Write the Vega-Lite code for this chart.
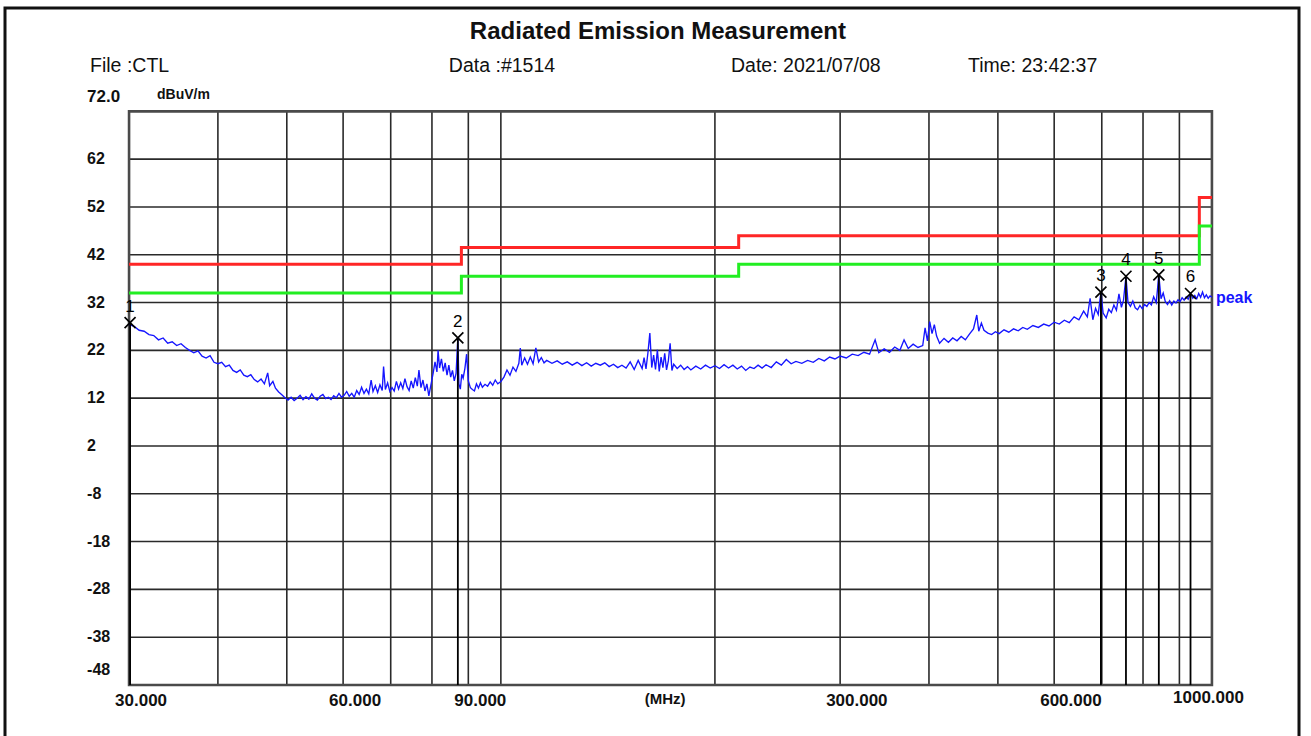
{
  "$schema": "https://vega.github.io/schema/vega-lite/v6.json",
  "width": 1311,
  "height": 736,
  "autosize": {"type": "fit", "contains": "padding"},
  "padding": {"left": 5, "top": 8, "right": 12, "bottom": -3},
  "background": "white",
  "config": {"view": {"stroke": "#111111", "strokeWidth": 3}, "font": "Liberation Sans"},
  "datasets": {
    "trace": [
      {"f":30.0,"v":27.4},{"f":30.5,"v":27.0},{"f":31.0,"v":26.2},{"f":31.5,"v":26.0},{"f":32.0,"v":25.3},{"f":32.5,"v":25.1},{"f":33.0,"v":24.2},{"f":33.5,"v":24.6},{"f":34.0,"v":23.5},{"f":34.5,"v":23.8},
      {"f":35.0,"v":23.0},{"f":35.5,"v":23.4},{"f":36.0,"v":22.6},{"f":36.5,"v":22.0},{"f":37.0,"v":21.5},{"f":37.5,"v":21.9},{"f":38.0,"v":20.8},{"f":38.5,"v":20.4},{"f":39.0,"v":20.9},{"f":39.5,"v":19.5},
      {"f":40.0,"v":19.2},{"f":40.5,"v":19.5},{"f":41.0,"v":18.6},{"f":41.5,"v":18.9},{"f":42.0,"v":17.8},{"f":42.5,"v":17.4},{"f":43.0,"v":17.9},{"f":43.5,"v":16.8},{"f":44.0,"v":16.5},{"f":44.5,"v":16.9},
      {"f":45.0,"v":15.9},{"f":45.5,"v":15.4},{"f":46.0,"v":16.0},{"f":46.5,"v":15.0},{"f":47.0,"v":17.3},{"f":47.3,"v":14.6},{"f":47.8,"v":15.5},{"f":48.2,"v":14.1},{"f":48.7,"v":13.3},{"f":49.2,"v":12.7},
      {"f":49.7,"v":12.1},{"f":50.2,"v":11.6},{"f":50.7,"v":12.2},{"f":51.2,"v":11.5},{"f":51.7,"v":12.0},{"f":52.2,"v":12.6},{"f":52.7,"v":11.7},{"f":53.2,"v":12.3},{"f":53.7,"v":11.8},{"f":54.2,"v":12.9},
      {"f":54.7,"v":12.0},{"f":55.2,"v":11.6},{"f":55.7,"v":12.4},{"f":56.2,"v":12.8},{"f":56.7,"v":11.9},{"f":57.2,"v":12.2},{"f":57.7,"v":11.7},{"f":58.2,"v":12.5},{"f":58.7,"v":12.1},{"f":59.2,"v":13.0},
      {"f":59.7,"v":12.2},{"f":60.2,"v":12.6},{"f":60.7,"v":13.4},{"f":61.2,"v":12.4},{"f":61.7,"v":13.0},{"f":62.2,"v":12.2},{"f":62.7,"v":13.6},{"f":63.2,"v":12.8},{"f":63.7,"v":14.3},{"f":64.2,"v":13.0},
      {"f":64.7,"v":13.9},{"f":65.2,"v":12.9},{"f":65.7,"v":15.8},{"f":66.1,"v":13.4},{"f":66.6,"v":14.6},{"f":67.1,"v":13.2},{"f":67.6,"v":14.8},{"f":68.1,"v":13.6},{"f":68.4,"v":18.6},{"f":68.8,"v":13.8},
      {"f":69.3,"v":15.2},{"f":69.8,"v":13.4},{"f":70.3,"v":14.2},{"f":70.8,"v":13.5},{"f":71.3,"v":15.5},{"f":71.8,"v":13.9},{"f":72.3,"v":15.2},{"f":72.8,"v":14.0},{"f":73.3,"v":16.1},{"f":73.8,"v":14.4},
      {"f":74.3,"v":13.6},{"f":74.8,"v":15.6},{"f":75.3,"v":14.1},{"f":75.8,"v":16.3},{"f":76.3,"v":14.5},{"f":76.7,"v":17.9},{"f":77.2,"v":14.2},{"f":77.7,"v":15.8},{"f":78.2,"v":13.5},{"f":78.7,"v":15.0},
      {"f":79.2,"v":12.5},{"f":79.7,"v":14.6},{"f":80.3,"v":17.2},{"f":80.8,"v":19.6},{"f":81.3,"v":17.5},{"f":81.6,"v":22.0},{"f":82.0,"v":18.3},{"f":82.5,"v":20.2},{"f":83.0,"v":17.6},{"f":83.5,"v":19.4},
      {"f":84.0,"v":16.8},{"f":84.5,"v":18.9},{"f":85.0,"v":16.4},{"f":85.5,"v":17.8},{"f":86.0,"v":15.6},{"f":86.5,"v":17.2},{"f":87.0,"v":24.6},{"f":87.3,"v":15.0},{"f":87.7,"v":13.9},{"f":88.1,"v":17.0},
      {"f":88.5,"v":16.2},{"f":89.0,"v":18.2},{"f":89.5,"v":21.2},{"f":90.0,"v":15.6},{"f":90.6,"v":14.2},{"f":91.2,"v":13.8},{"f":91.8,"v":13.5},{"f":92.4,"v":15.0},{"f":93.0,"v":14.1},{"f":93.6,"v":15.2},
      {"f":94.2,"v":14.3},{"f":95.0,"v":14.9},{"f":95.8,"v":14.5},{"f":96.6,"v":15.4},{"f":97.4,"v":14.7},{"f":98.2,"v":15.8},{"f":99.0,"v":15.0},{"f":100,"v":15.5},{"f":101,"v":16.4},{"f":102,"v":17.9},
      {"f":103,"v":16.8},{"f":104,"v":18.5},{"f":105,"v":17.6},{"f":106,"v":19.3},{"f":106.5,"v":22.5},{"f":107,"v":18.9},{"f":108,"v":20.4},{"f":109,"v":19.1},{"f":110,"v":20.6},{"f":111,"v":19.2},
      {"f":112,"v":22.5},{"f":113,"v":19.6},{"f":114,"v":20.5},{"f":115,"v":19.4},{"f":116,"v":19.9},{"f":118,"v":19.3},{"f":120,"v":19.8},{"f":122,"v":19.1},{"f":124,"v":19.6},{"f":126,"v":18.9},
      {"f":128,"v":19.5},{"f":130,"v":18.8},{"f":132,"v":19.4},{"f":134,"v":18.7},{"f":136,"v":19.3},{"f":138,"v":18.9},{"f":140,"v":19.4},{"f":142,"v":18.6},{"f":144,"v":19.1},{"f":146,"v":18.4},
      {"f":148,"v":18.9},{"f":150,"v":18.3},{"f":152,"v":19.6},{"f":154,"v":18.0},{"f":156,"v":19.9},{"f":158,"v":18.2},{"f":159,"v":20.5},{"f":160,"v":18.1},{"f":161,"v":21.5},{"f":162,"v":25.6},
      {"f":163,"v":18.4},{"f":164,"v":21.0},{"f":165,"v":18.0},{"f":166,"v":22.1},{"f":167,"v":17.6},{"f":168,"v":20.6},{"f":169,"v":18.4},{"f":170,"v":21.4},{"f":171,"v":17.9},{"f":172,"v":19.8},
      {"f":173,"v":23.5},{"f":174,"v":17.8},{"f":175,"v":19.1},{"f":177,"v":18.2},{"f":179,"v":18.9},{"f":181,"v":18.0},{"f":183,"v":18.6},{"f":185,"v":17.9},{"f":188,"v":18.7},{"f":191,"v":18.1},
      {"f":194,"v":18.9},{"f":197,"v":18.3},{"f":200,"v":18.8},{"f":203,"v":18.2},{"f":206,"v":19.0},{"f":209,"v":18.3},{"f":212,"v":18.9},{"f":215,"v":18.1},{"f":218,"v":18.7},{"f":221,"v":17.8},
      {"f":224,"v":18.5},{"f":227,"v":18.2},{"f":230,"v":18.9},{"f":233,"v":18.3},{"f":236,"v":19.0},{"f":240,"v":18.4},{"f":244,"v":19.6},{"f":248,"v":18.9},{"f":252,"v":20.1},{"f":256,"v":19.2},
      {"f":260,"v":19.7},{"f":265,"v":19.3},{"f":270,"v":19.9},{"f":275,"v":19.5},{"f":280,"v":20.3},{"f":285,"v":19.8},{"f":290,"v":20.6},{"f":295,"v":20.2},{"f":300,"v":20.8},{"f":306,"v":20.4},
      {"f":312,"v":21.2},{"f":318,"v":20.9},{"f":324,"v":21.6},{"f":330,"v":21.2},{"f":336,"v":24.2},{"f":340,"v":21.5},{"f":346,"v":22.3},{"f":352,"v":21.6},{"f":358,"v":22.7},{"f":364,"v":22.0},
      {"f":369,"v":24.2},{"f":374,"v":22.4},{"f":380,"v":23.3},{"f":386,"v":22.6},{"f":392,"v":23.0},{"f":395,"v":26.7},{"f":398,"v":24.0},{"f":401,"v":28.0},{"f":404,"v":25.5},{"f":407,"v":27.4},
      {"f":410,"v":25.0},{"f":414,"v":23.5},{"f":420,"v":24.5},{"f":426,"v":23.7},{"f":432,"v":24.6},{"f":438,"v":24.0},{"f":444,"v":24.9},{"f":450,"v":24.2},{"f":456,"v":25.4},{"f":462,"v":26.5},
      {"f":467,"v":29.4},{"f":470,"v":26.0},{"f":474,"v":27.7},{"f":478,"v":26.2},{"f":484,"v":25.6},{"f":490,"v":25.3},{"f":496,"v":25.9},{"f":502,"v":25.5},{"f":510,"v":26.3},{"f":518,"v":25.8},
      {"f":526,"v":26.5},{"f":534,"v":26.1},{"f":542,"v":26.8},{"f":550,"v":26.4},{"f":560,"v":27.2},{"f":570,"v":26.8},{"f":580,"v":27.5},{"f":590,"v":27.1},{"f":600,"v":27.9},{"f":610,"v":27.5},
      {"f":620,"v":28.3},{"f":630,"v":27.8},{"f":640,"v":29.0},{"f":650,"v":28.4},{"f":660,"v":30.2},{"f":668,"v":29.0},{"f":674,"v":32.9},{"f":680,"v":28.4},{"f":686,"v":30.8},{"f":692,"v":29.5},
      {"f":698,"v":34.2},{"f":703,"v":29.8},{"f":710,"v":28.8},{"f":716,"v":30.6},{"f":722,"v":29.9},{"f":728,"v":31.5},{"f":734,"v":30.4},{"f":740,"v":33.8},{"f":746,"v":31.0},{"f":751,"v":32.5},
      {"f":757,"v":37.5},{"f":762,"v":32.0},{"f":768,"v":31.2},{"f":774,"v":32.3},{"f":780,"v":30.9},{"f":786,"v":30.5},{"f":792,"v":31.4},{"f":798,"v":30.7},{"f":804,"v":31.6},{"f":810,"v":31.2},
      {"f":816,"v":32.0},{"f":822,"v":31.5},{"f":828,"v":33.2},{"f":835,"v":32.0},{"f":842,"v":37.8},{"f":848,"v":32.8},{"f":854,"v":34.0},{"f":860,"v":32.2},{"f":866,"v":31.6},{"f":872,"v":32.4},
      {"f":878,"v":31.5},{"f":884,"v":32.3},{"f":890,"v":31.9},{"f":896,"v":32.6},{"f":902,"v":32.2},{"f":908,"v":33.0},{"f":914,"v":32.5},{"f":920,"v":33.2},{"f":926,"v":32.7},{"f":933,"v":33.9},
      {"f":940,"v":32.9},{"f":946,"v":33.5},{"f":952,"v":32.8},{"f":958,"v":33.9},{"f":964,"v":33.1},{"f":970,"v":34.2},{"f":976,"v":33.0},{"f":982,"v":33.6},{"f":988,"v":32.9},{"f":994,"v":33.4},
      {"f":1000,"v":33.1}
    ],
    "limit": [{"f":30,"v":40},{"f":88,"v":43.5},{"f":216,"v":46},{"f":960,"v":54},{"f":1000,"v":54}],
    "margin": [{"f":30,"v":34},{"f":88,"v":37.5},{"f":216,"v":40},{"f":960,"v":48},{"f":1000,"v":48}],
    "markers": [
      {"n":"1","f":30.1,"v":27.8},{"n":"2","f":87.0,"v":24.6},{"n":"3","f":698,"v":34.2},
      {"n":"4","f":757,"v":37.5},{"n":"5","f":842,"v":37.8},{"n":"6","f":933,"v":33.9}
    ],
    "xgrid": [{"f":40},{"f":50},{"f":60},{"f":70},{"f":80},{"f":90},{"f":100},{"f":200},{"f":300},{"f":400},{"f":500},{"f":600},{"f":700},{"f":800},{"f":900}],
    "ygrid": [{"v":-38},{"v":-28},{"v":-18},{"v":-8},{"v":2},{"v":12},{"v":22},{"v":32},{"v":42},{"v":52},{"v":62}],
    "xlabels": [{"f":30,"t":"30.000"},{"f":60,"t":"60.000"},{"f":90,"t":"90.000"},{"f":300,"t":"300.000"},{"f":600,"t":"600.000"}],
    "ylabels": [{"v":62,"t":"62"},{"v":52,"t":"52"},{"v":42,"t":"42"},{"v":32,"t":"32"},{"v":22,"t":"22"},{"v":12,"t":"12"},{"v":2,"t":"2"},{"v":-8,"t":"-8"},{"v":-18,"t":"-18"},{"v":-28,"t":"-28"},{"v":-38,"t":"-38"}]
  },
  "layer": [
    {"data": {"name": "ygrid"}, "mark": {"type": "rule", "color": "#2a2a2a", "strokeWidth": 1.6},
     "encoding": {
       "x": {"datum": 30, "type": "quantitative", "scale": {"type": "log", "domain": [20.075, 1325.7], "nice": false}, "axis": null},
       "x2": {"datum": 1000},
       "y": {"field": "v", "type": "quantitative", "scale": {"domain": [-59.3, 93.62], "nice": false, "zero": false}, "axis": null}}},
    {"data": {"name": "xgrid"}, "mark": {"type": "rule", "color": "#2a2a2a", "strokeWidth": 1.6},
     "encoding": {
       "x": {"field": "f", "type": "quantitative", "scale": {"type": "log", "domain": [20.075, 1325.7], "nice": false}, "axis": null},
       "y": {"datum": 72, "type": "quantitative", "scale": {"domain": [-59.3, 93.62], "nice": false, "zero": false}, "axis": null},
       "y2": {"datum": -48}}},
    {"data": {"values": [{}]}, "mark": {"type": "rect", "filled": false, "stroke": "#4a4a4a", "strokeWidth": 2.6},
     "encoding": {"x": {"datum": 30, "type": "quantitative"}, "x2": {"datum": 1000}, "y": {"datum": 72, "type": "quantitative"}, "y2": {"datum": -48}}},
    {"data": {"name": "limit"}, "mark": {"type": "line", "interpolate": "step-after", "color": "#ff2626", "strokeWidth": 3},
     "encoding": {"x": {"field": "f", "type": "quantitative"}, "y": {"field": "v", "type": "quantitative"}}},
    {"data": {"name": "margin"}, "mark": {"type": "line", "interpolate": "step-after", "color": "#22ee22", "strokeWidth": 3},
     "encoding": {"x": {"field": "f", "type": "quantitative"}, "y": {"field": "v", "type": "quantitative"}}},
    {"data": {"name": "trace"}, "mark": {"type": "line", "color": "#1515ff", "strokeWidth": 1.35},
     "encoding": {"x": {"field": "f", "type": "quantitative"}, "y": {"field": "v", "type": "quantitative"}}},
    {"data": {"name": "markers"}, "mark": {"type": "rule", "color": "#000000", "strokeWidth": 1.8},
     "encoding": {"x": {"field": "f", "type": "quantitative"}, "y": {"field": "v", "type": "quantitative"}, "y2": {"datum": -48}}},
    {"data": {"name": "markers"}, "mark": {"type": "point", "shape": "M-1,-1L1,1M-1,1L1,-1", "filled": false, "stroke": "#000000", "strokeWidth": 1.7, "size": 121, "opacity": 1},
     "encoding": {"x": {"field": "f", "type": "quantitative"}, "y": {"field": "v", "type": "quantitative"}}},
    {"data": {"name": "markers"}, "mark": {"type": "text", "dy": -16, "fontSize": 17, "color": "#000000", "baseline": "middle", "align": "center"},
     "encoding": {"x": {"field": "f", "type": "quantitative"}, "y": {"field": "v", "type": "quantitative"}, "text": {"field": "n"}}},
    {"data": {"name": "ylabels"}, "mark": {"type": "text", "align": "left", "baseline": "middle", "dx": -42, "fontSize": 16, "fontWeight": "bold", "color": "#111"},
     "encoding": {"x": {"datum": 30, "type": "quantitative"}, "y": {"field": "v", "type": "quantitative"}, "text": {"field": "t"}}},
    {"data": {"values": [{}]}, "mark": {"type": "text", "align": "left", "baseline": "middle", "dx": -42, "fontSize": 16, "fontWeight": "bold", "color": "#111"},
     "encoding": {"x": {"datum": 30, "type": "quantitative"}, "y": {"datum": -44.9, "type": "quantitative"}, "text": {"value": "-48"}}},
    {"data": {"values": [{}]}, "mark": {"type": "text", "align": "left", "baseline": "middle", "dx": -42, "fontSize": 17, "fontWeight": "bold", "color": "#111"},
     "encoding": {"x": {"datum": 30, "type": "quantitative"}, "y": {"datum": 75.1, "type": "quantitative"}, "text": {"value": "72.0"}}},
    {"data": {"values": [{}]}, "mark": {"type": "text", "align": "left", "baseline": "middle", "dx": 28, "fontSize": 14, "fontWeight": "bold", "color": "#111"},
     "encoding": {"x": {"datum": 30, "type": "quantitative"}, "y": {"datum": 75.5, "type": "quantitative"}, "text": {"value": "dBuV/m"}}},
    {"data": {"name": "xlabels"}, "mark": {"type": "text", "align": "left", "baseline": "middle", "dx": -14, "dy": 16, "fontSize": 17, "fontWeight": "bold", "color": "#111"},
     "encoding": {"x": {"field": "f", "type": "quantitative"}, "y": {"datum": -48, "type": "quantitative"}, "text": {"field": "t"}}},
    {"data": {"values": [{}]}, "mark": {"type": "text", "align": "right", "baseline": "middle", "dx": 32, "dy": 13, "fontSize": 17, "fontWeight": "bold", "color": "#111"},
     "encoding": {"x": {"datum": 1000, "type": "quantitative"}, "y": {"datum": -48, "type": "quantitative"}, "text": {"value": "1000.000"}}},
    {"data": {"values": [{}]}, "mark": {"type": "text", "align": "center", "baseline": "middle", "dy": 14, "fontSize": 15, "fontWeight": "bold", "color": "#111"},
     "encoding": {"x": {"datum": 170.2, "type": "quantitative"}, "y": {"datum": -48, "type": "quantitative"}, "text": {"value": "(MHz)"}}},
    {"data": {"values": [{}]}, "mark": {"type": "text", "align": "left", "baseline": "middle", "dx": 4, "fontSize": 16, "fontWeight": "bold", "color": "#1515ff"},
     "encoding": {"x": {"datum": 1000, "type": "quantitative"}, "y": {"datum": 33.0, "type": "quantitative"}, "text": {"value": "peak"}}},
    {"data": {"values": [{}]}, "mark": {"type": "text", "align": "center", "baseline": "middle", "fontSize": 24, "fontWeight": "bold", "color": "#111"},
     "encoding": {"x": {"datum": 166.3, "type": "quantitative"}, "y": {"datum": 88.7, "type": "quantitative"}, "text": {"value": "Radiated Emission Measurement"}}},
    {"data": {"values": [{}]}, "mark": {"type": "text", "align": "left", "baseline": "middle", "fontSize": 19.5, "color": "#111"},
     "encoding": {"x": {"datum": 26.44, "type": "quantitative"}, "y": {"datum": 81.4, "type": "quantitative"}, "text": {"value": "File :CTL"}}},
    {"data": {"values": [{}]}, "mark": {"type": "text", "align": "left", "baseline": "middle", "fontSize": 19.5, "color": "#111"},
     "encoding": {"x": {"datum": 84.5, "type": "quantitative"}, "y": {"datum": 81.4, "type": "quantitative"}, "text": {"value": "Data :#1514"}}},
    {"data": {"values": [{}]}, "mark": {"type": "text", "align": "left", "baseline": "middle", "fontSize": 19.5, "color": "#111"},
     "encoding": {"x": {"datum": 210.7, "type": "quantitative"}, "y": {"datum": 81.4, "type": "quantitative"}, "text": {"value": "Date: 2021/07/08"}}},
    {"data": {"values": [{}]}, "mark": {"type": "text", "align": "left", "baseline": "middle", "fontSize": 19.5, "color": "#111"},
     "encoding": {"x": {"datum": 453.8, "type": "quantitative"}, "y": {"datum": 81.4, "type": "quantitative"}, "text": {"value": "Time: 23:42:37"}}}
  ]
}
